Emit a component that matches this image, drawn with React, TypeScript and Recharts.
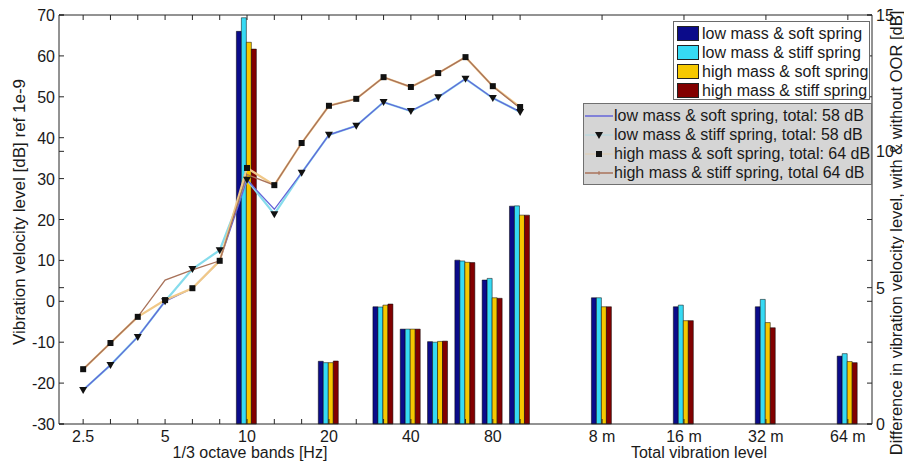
"use client";

import React from "react";
import { Bar, ComposedChart, Label, Legend, Line, XAxis, YAxis } from "recharts";

// 1/3 octave band centres [Hz] and total-level distances
const bands = ["2.5", "3.15", "4", "5", "6.3", "8", "10", "12.5", "16", "20", "25", "31.5", "40", "50", "63", "80", "100"];
const totals = ["8 m", "16 m", "32 m", "64 m"];
const tickLabels = ["2.5", "5", "10", "20", "40", "80", "8 m", "16 m", "32 m", "64 m"];

// vibration velocity level, dB ref 1e-9 (left axis)
const lowSoft = [-21.7, -15.6, -8.7, 0.0, 3.2, 9.9, 29.7, 22.5, 31.4, 40.7, 42.9, 48.7, 46.5, 49.9, 54.4, 49.7, 46.3];
const lowStiff = [-21.7, -15.6, -8.7, 0.0, 7.9, 12.5, 29.7, 21.3, 31.4, 40.7, 42.9, 48.7, 46.5, 49.9, 54.4, 49.7, 46.3];
const highSoft = [-16.6, -10.2, -3.8, 0.3, 3.2, 9.9, 32.6, 28.4, 38.7, 47.8, 49.5, 54.8, 52.4, 55.8, 59.7, 52.6, 47.5];
const highStiff = [-16.6, -10.2, -3.8, 5.2, 7.7, 9.9, 31.0, 28.4, 38.7, 47.8, 49.5, 54.8, 52.4, 55.8, 59.7, 52.6, 47.2];

// difference with & without OOR, dB (right axis)
const diffCats = ["10", "20", "31.5", "40", "50", "63", "80", "100", "8 m", "16 m", "32 m", "64 m"];
const diffLowSoft = [14.4, 2.3, 4.3, 3.48, 3.02, 6.01, 5.28, 7.99, 4.63, 4.3, 4.3, 2.49];
const diffLowStiff = [14.9, 2.25, 4.29, 3.48, 3.0, 5.98, 5.34, 8.0, 4.63, 4.36, 4.57, 2.58];
const diffHighSoft = [14.0, 2.25, 4.36, 3.48, 3.03, 5.93, 4.63, 7.66, 4.3, 3.79, 3.72, 2.29];
const diffHighStiff = [13.75, 2.31, 4.4, 3.48, 3.04, 5.92, 4.61, 7.66, 4.3, 3.79, 3.53, 2.25];

const barNames = ["low mass & soft spring", "low mass & stiff spring", "high mass & soft spring", "high mass & stiff spring"];
const lineNames = [
  "low mass & soft spring, total: 58 dB",
  "low mass & stiff spring, total: 58 dB",
  "high mass & soft spring, total: 64 dB",
  "high mass & stiff spring, total 64 dB",
];

const leftTicks = [-30, -20, -10, 0, 10, 20, 30, 40, 50, 60, 70];
const rightTicks = [0, 5, 10, 15];

// two empty slots before each total-level group
const categories: string[] = [...bands];
totals.forEach((t, i) => categories.push(`gap${i}a`, `gap${i}b`, t));

const data = categories.map((cat, i) => {
  const d = diffCats.indexOf(cat);
  const inBand = i < bands.length;
  return {
    cat,
    lowSoft: inBand ? lowSoft[i] : null,
    lowStiff: inBand ? lowStiff[i] : null,
    highSoft: inBand ? highSoft[i] : null,
    highStiff: inBand ? highStiff[i] : null,
    dLowSoft: d >= 0 ? diffLowSoft[d] : null,
    dLowStiff: d >= 0 ? diffLowStiff[d] : null,
    dHighSoft: d >= 0 ? diffHighSoft[d] : null,
    dHighStiff: d >= 0 ? diffHighStiff[d] : null,
  };
});

const FONT = "'Liberation Sans', Arial, Helvetica, sans-serif";
const AXIS = "#262626";
const TEXT = "#1a1a1a";
const BAR_COLORS = ["#0b0b8a", "#36daf4", "#f6c800", "#820000"];

// plot box (page coords)
const PL = 59;
const PR = 872;
const TICK = 5;

const isGap = (cat: string) => cat.startsWith("gap");

const BottomTick = (props: any) => {
  const { x, y, payload } = props;
  const cat: string = payload.value;
  if (isGap(cat)) return <g />;
  return (
    <g>
      <line x1={x} x2={x} y1={y} y2={y - TICK} stroke={AXIS} />
      {tickLabels.includes(cat) && (
        <text x={x} y={y + 18} textAnchor="middle" fontSize={16} fontFamily={FONT} fill={TEXT}>
          {cat}
        </text>
      )}
    </g>
  );
};

const TopTick = (props: any) => {
  const { x, y, payload } = props;
  if (isGap(payload.value)) return <g />;
  return <line x1={x} x2={x} y1={y} y2={y + TICK} stroke={AXIS} />;
};

const LeftTick = (props: any) => {
  const { y, payload } = props;
  return (
    <g>
      <line x1={PL} x2={PL + TICK} y1={y} y2={y} stroke={AXIS} />
      <line x1={PR} x2={PR - TICK} y1={y} y2={y} stroke={AXIS} />
      <text x={PL - 4} y={y + 6} textAnchor="end" fontSize={16} fontFamily={FONT} fill={TEXT}>
        {payload.value}
      </text>
    </g>
  );
};

const RightTick = (props: any) => {
  const { y, payload } = props;
  return (
    <g>
      <line x1={PR} x2={PR - TICK} y1={y} y2={y} stroke={AXIS} />
      <line x1={PL} x2={PL + TICK} y1={y} y2={y} stroke={AXIS} />
      <text x={PR + 4} y={y + 6} textAnchor="start" fontSize={16} fontFamily={FONT} fill={TEXT}>
        {payload.value}
      </text>
    </g>
  );
};

const TriangleDot = (props: any) => {
  const { cx, cy, index } = props;
  if (cx == null || cy == null) return <g key={`t${index}`} />;
  return <polygon key={`t${index}`} points={`${cx - 4},${cy - 3} ${cx + 4},${cy - 3} ${cx},${cy + 4}`} fill="#111" />;
};

const SquareDot = (props: any) => {
  const { cx, cy, index } = props;
  if (cx == null || cy == null) return <g key={`s${index}`} />;
  return <rect key={`s${index}`} x={cx - 3} y={cy - 3} width={6} height={6} fill="#111" />;
};

const LineIcon = ({ type, color }: { type: string; color: string }) => (
  <svg width={30} height={18} style={{ display: "block" }}>
    {type === "line" && <line x1={1} x2={29} y1={9} y2={9} stroke={color} strokeWidth={1.5} />}
    {type === "triangle" && (
      <>
        <line x1={1} x2={29} y1={9} y2={9} stroke={color} strokeWidth={1} opacity={0.5} />
        <polygon points="11,6 19,6 15,13" fill="#111" />
      </>
    )}
    {type === "square" && (
      <>
        <line x1={1} x2={29} y1={9} y2={9} stroke={color} strokeWidth={1} opacity={0.5} />
        <rect x={12} y={6} width={6} height={6} fill="#111" />
      </>
    )}
    {type === "plainline" && (
      <>
        <line x1={1} x2={29} y1={9} y2={9} stroke={color} strokeWidth={1.5} />
        <line x1={15} x2={15} y1={7} y2={11} stroke={color} strokeWidth={1} />
      </>
    )}
  </svg>
);

const byOrder = (names: string[]) => (a: any, b: any) => names.indexOf(a.value) - names.indexOf(b.value);

const renderLegend = (props: any) => {
  const payload: any[] = props.payload || [];
  const barItems = payload.filter((p) => p.type === "rect").sort(byOrder(barNames));
  const lineItems = payload.filter((p) => p.type !== "rect").sort(byOrder(lineNames));
  const textStyle: React.CSSProperties = { fontSize: 16, fontFamily: FONT, color: TEXT, whiteSpace: "nowrap" };
  return (
    <div style={{ position: "relative", width: 904, height: 463 }}>
      <div
        style={{
          position: "absolute",
          left: 673,
          top: 21,
          width: 197,
          height: 79,
          boxSizing: "border-box",
          background: "#fff",
          border: "1px solid #6a6a6a",
          paddingTop: 2,
        }}
      >
        {barItems.map((p) => (
          <div key={p.value} style={{ display: "flex", alignItems: "center", height: 19 }}>
            <div
              style={{
                width: 22,
                height: 15,
                marginLeft: 3,
                marginRight: 3,
                background: p.color,
                border: "1px solid #222",
                boxSizing: "border-box",
              }}
            />
            <span style={textStyle}>{p.value}</span>
          </div>
        ))}
      </div>
      <div
        style={{
          position: "absolute",
          left: 583,
          top: 103,
          width: 289,
          height: 82,
          boxSizing: "border-box",
          background: "#d5d5d5",
          border: "1px solid #707070",
          paddingTop: 2,
        }}
      >
        {lineItems.map((p) => (
          <div key={p.value} style={{ display: "flex", alignItems: "center", height: 19 }}>
            <LineIcon type={p.type} color={p.color} />
            <span style={textStyle}>{p.value}</span>
          </div>
        ))}
      </div>
    </div>
  );
};

export default function App() {
  return (
    <div style={{ position: "absolute", left: 0, top: 0, width: 904, height: 463, background: "#fff" }}>
      <ComposedChart
        width={904}
        height={463}
        data={data}
        margin={{ top: 0, right: 0, bottom: 0, left: 0 }}
        barCategoryGap={3}
        barGap={0}
      >
        <XAxis
          dataKey="cat"
          height={39}
          padding={{ left: 10.5, right: 10.5 }}
          interval={0}
          tickLine={false}
          tickSize={0}
          tickMargin={0}
          tick={<BottomTick />}
          axisLine={{ stroke: AXIS }}
        >
          <Label
            content={() => (
              <text x={250} y={458} textAnchor="middle" fontSize={16} fontFamily={FONT} fill={TEXT}>
                1/3 octave bands [Hz]
              </text>
            )}
          />
          <Label
            content={() => (
              <text x={699} y={458} textAnchor="middle" fontSize={16} fontFamily={FONT} fill={TEXT}>
                Total vibration level
              </text>
            )}
          />
        </XAxis>
        <XAxis
          xAxisId="top"
          orientation="top"
          dataKey="cat"
          height={15}
          padding={{ left: 10.5, right: 10.5 }}
          interval={0}
          tickLine={false}
          tickSize={0}
          tickMargin={0}
          tick={<TopTick />}
          axisLine={{ stroke: AXIS }}
        />
        <YAxis
          yAxisId="left"
          domain={[-30, 70]}
          ticks={leftTicks}
          interval={0}
          width={59}
          tickLine={false}
          tick={<LeftTick />}
          axisLine={{ stroke: AXIS }}
        >
          <Label
            content={() => (
              <text
                transform="translate(25,212) rotate(-90)"
                textAnchor="middle"
                fontSize={17}
                fontFamily={FONT}
                fill={TEXT}
              >
                Vibration velocity level [dB] ref 1e-9
              </text>
            )}
          />
        </YAxis>
        <YAxis
          yAxisId="right"
          orientation="right"
          domain={[0, 15]}
          ticks={rightTicks}
          interval={0}
          width={32}
          tickLine={false}
          tick={<RightTick />}
          axisLine={{ stroke: AXIS }}
        >
          <Label
            content={() => (
              <text
                transform="translate(902,233) rotate(-90)"
                textAnchor="middle"
                fontSize={16.5}
                fontFamily={FONT}
                fill={TEXT}
              >
                Difference in vibration velocity level, with &amp; without OOR [dB]
              </text>
            )}
          />
        </YAxis>

        <Bar yAxisId="right" dataKey="dLowSoft" name={barNames[0]} fill={BAR_COLORS[0]} stroke="#000" strokeWidth={0.5} legendType="rect" isAnimationActive={false} />
        <Bar yAxisId="right" dataKey="dLowStiff" name={barNames[1]} fill={BAR_COLORS[1]} stroke="#000" strokeWidth={0.5} legendType="rect" isAnimationActive={false} />
        <Bar yAxisId="right" dataKey="dHighSoft" name={barNames[2]} fill={BAR_COLORS[2]} stroke="#000" strokeWidth={0.5} legendType="rect" isAnimationActive={false} />
        <Bar yAxisId="right" dataKey="dHighStiff" name={barNames[3]} fill={BAR_COLORS[3]} stroke="#000" strokeWidth={0.5} legendType="rect" isAnimationActive={false} />

        <Line yAxisId="left" dataKey="lowStiff" name={lineNames[1]} stroke="#86dcec" strokeWidth={2.2} dot={<TriangleDot />} legendType="triangle" isAnimationActive={false} />
        <Line yAxisId="left" dataKey="lowSoft" name={lineNames[0]} stroke="#6464d8" strokeWidth={1.3} dot={false} legendType="line" isAnimationActive={false} />
        <Line yAxisId="left" dataKey="highSoft" name={lineNames[2]} stroke="#f0c888" strokeWidth={2.2} dot={<SquareDot />} legendType="square" isAnimationActive={false} />
        <Line yAxisId="left" dataKey="highStiff" name={lineNames[3]} stroke="#a8725a" strokeWidth={1.3} dot={false} legendType="plainline" isAnimationActive={false} />

        <Legend
          content={renderLegend}
          layout="horizontal"
          verticalAlign="middle"
          align="center"
          wrapperStyle={{ left: 0, top: 0, width: 904, height: 463, pointerEvents: "none" }}
        />
      </ComposedChart>
    </div>
  );
}
